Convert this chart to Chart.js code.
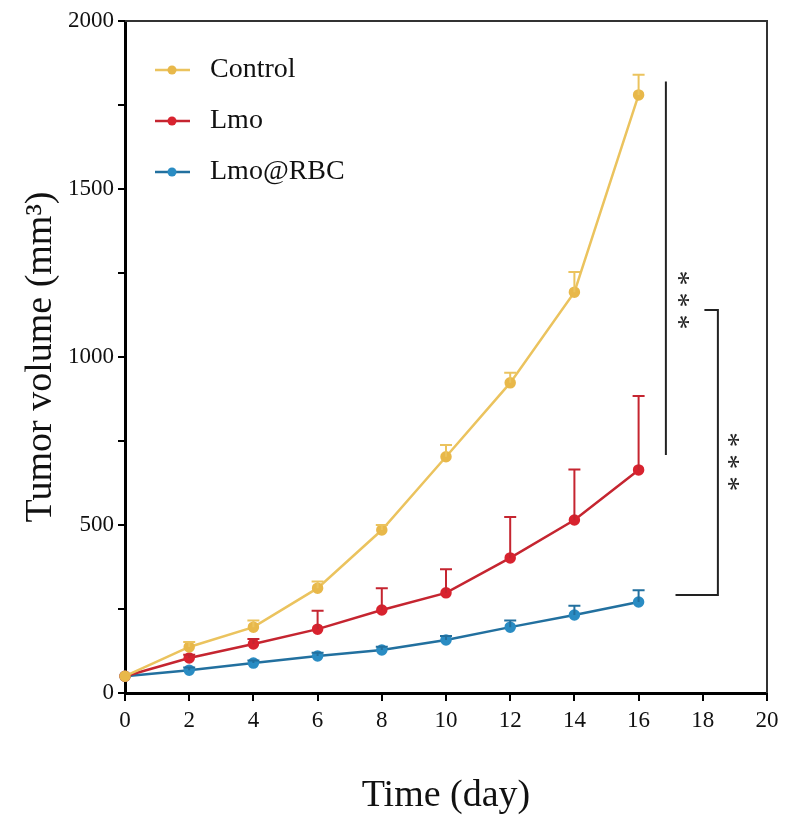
<!DOCTYPE html>
<html>
<head>
<meta charset="utf-8">
<script src="https://cdn.jsdelivr.net/npm/chart.js@4/dist/chart.umd.min.js"></script>
<style>
html, body { margin: 0; padding: 0; background: #fff; }
#wrap { width: 786px; height: 835px; }
</style>
</head>
<body>
<div id="wrap"><canvas id="tumorChart"></canvas></div>
<script>
// values (mm^3), errors are one-sided (upper) SD
const days = [0, 2, 4, 6, 8, 10, 12, 14, 16];
const controlMean = [50, 137, 196, 312, 485, 703, 923, 1193, 1780];
const controlErr = [0, 15, 20, 20, 15, 35, 30, 60, 60];
const lmoMean = [50, 104, 146, 190, 247, 298, 402, 515, 664];
const lmoErr = [0, 10, 15, 55, 65, 70, 122, 150, 220];
const rbcMean = [50, 68, 89, 110, 128, 158, 196, 232, 271];
const rbcErr = [0, 8, 8, 10, 10, 12, 20, 28, 35];

const seriesNames = ["Control", "Lmo", "Lmo@RBC"];
const pointColors = ["#e8b84a", "#d8232f", "#2a8cc3"];
const lineColors = ["#ebc35e", "#c52530", "#22709f"];

// significance brackets, in data units (day, mm^3)
const brackets = [
    { path: [[16.85, 1820], [16.85, 708]], label: "***", at: [17.37, 1170] },
    { path: [[18.05, 1140], [18.47, 1140], [18.47, 292], [17.15, 292]], label: "***", at: [18.94, 688] }
];

const serif = "'Liberation Serif', 'DejaVu Serif', serif";

function toPoints(means) {
    return days.map((d, i) => ({ x: d, y: means[i] }));
}

const errorSets = [controlErr, lmoErr, rbcErr];

const errorBars = {
    id: "errorBars",
    afterDatasetsDraw(chart) {
        const ctx = chart.ctx;
        const yScale = chart.scales.y;
        chart.data.datasets.forEach((ds, di) => {
            const meta = chart.getDatasetMeta(di);
            const errs = errorSets[di];
            ctx.save();
            ctx.strokeStyle = lineColors[di];
            ctx.lineWidth = 2;
            meta.data.forEach((pt, i) => {
                if (!errs[i]) return;
                const top = yScale.getPixelForValue(ds.data[i].y + errs[i]);
                ctx.beginPath();
                ctx.moveTo(pt.x, pt.y);
                ctx.lineTo(pt.x, top);
                ctx.moveTo(pt.x - 6, top);
                ctx.lineTo(pt.x + 6, top);
                ctx.stroke();
            });
            ctx.restore();
        });
    }
};

const frameAndNotes = {
    id: "frameAndNotes",
    afterDraw(chart) {
        const ctx = chart.ctx;
        const a = chart.chartArea;
        const xs = chart.scales.x, ys = chart.scales.y;
        ctx.save();
        // top and right frame
        ctx.strokeStyle = "#333";
        ctx.lineWidth = 2;
        ctx.beginPath();
        ctx.moveTo(a.left, a.top);
        ctx.lineTo(a.right, a.top);
        ctx.lineTo(a.right, a.bottom);
        ctx.stroke();

        // brackets
        ctx.strokeStyle = "#222";
        ctx.lineWidth = 2;
        brackets.forEach(b => {
            ctx.beginPath();
            b.path.forEach((p, i) => {
                const px = xs.getPixelForValue(p[0]);
                const py = ys.getPixelForValue(p[1]);
                if (i === 0) ctx.moveTo(px, py); else ctx.lineTo(px, py);
            });
            ctx.stroke();
            // stars stacked vertically, rotated like the original
            const cx = xs.getPixelForValue(b.at[0]);
            const cy = ys.getPixelForValue(b.at[1]);
            ctx.fillStyle = "#222";
            ctx.font = "30px " + serif;
            ctx.textAlign = "center";
            ctx.textBaseline = "middle";
            for (let k = 0; k < b.label.length; k++) {
                ctx.save();
                ctx.translate(cx, cy + (k - 1) * 22);
                ctx.rotate(Math.PI / 2);
                ctx.fillText(b.label[k], 0, 5);
                ctx.restore();
            }
        });

        // legend inside plot
        ctx.font = "28px " + serif;
        ctx.textBaseline = "middle";
        ctx.textAlign = "left";
        const rowY = [70, 121, 172];
        seriesNames.forEach((name, i) => {
            const y = rowY[i];
            ctx.strokeStyle = lineColors[i];
            ctx.lineWidth = 2.5;
            ctx.beginPath();
            ctx.moveTo(155, y);
            ctx.lineTo(190, y);
            ctx.stroke();
            ctx.fillStyle = pointColors[i];
            ctx.beginPath();
            ctx.arc(172, y, 4.5, 0, Math.PI * 2);
            ctx.fill();
            ctx.fillStyle = "#111";
            ctx.fillText(name, 210, y);
        });
        ctx.restore();
    }
};

const ctx = document.getElementById("tumorChart").getContext("2d");

const datasets = [controlMean, lmoMean, rbcMean].map((means, i) => ({
    label: seriesNames[i],
    data: toPoints(means),
    borderColor: lineColors[i],
    backgroundColor: pointColors[i],
    pointBackgroundColor: pointColors[i],
    pointBorderColor: pointColors[i],
    pointRadius: 4.5,
    borderWidth: 2.5,
    tension: 0,
    clip: false
}));

let chart = new Chart(ctx, {
    type: "line",
    data: { datasets: datasets },
    options: {
        responsive: true,
        maintainAspectRatio: false,
        animation: false,
        layout: { padding: { top: 21, right: 19, left: 0, bottom: 0 } },
        plugins: {
            legend: { display: false },
            tooltip: { enabled: false }
        },
        scales: {
            x: {
                type: "linear",
                min: 0,
                max: 20,
                ticks: { stepSize: 2, color: "#111", font: { family: serif, size: 23 }, padding: 6 },
                grid: { display: true, drawOnChartArea: false, drawTicks: true, tickLength: 8, color: "#000", lineWidth: 2 },
                border: { display: true, color: "#000", width: 3 },
                title: { display: true, text: "Time (day)", color: "#111", font: { family: serif, size: 38 }, padding: { top: 0, bottom: 16 } },
                afterFit(scale) { scale.height = 142; }
            },
            y: {
                min: 0,
                max: 2000,
                ticks: {
                    stepSize: 250,
                    color: "#111",
                    font: { family: serif, size: 23 },
                    padding: 4,
                    callback: v => (v % 500 === 0 ? v : "")
                },
                grid: { display: true, drawOnChartArea: false, drawTicks: true, tickLength: 7, color: "#000", lineWidth: 2 },
                border: { display: true, color: "#000", width: 3 },
                title: { display: true, text: "Tumor volume (mm³)", color: "#111", font: { family: serif, size: 38 }, padding: { top: 18, bottom: 0 } },
                afterFit(scale) { scale.width = 125; }
            }
        }
    },
    plugins: [errorBars, frameAndNotes]
});
</script>
</body>
</html>
